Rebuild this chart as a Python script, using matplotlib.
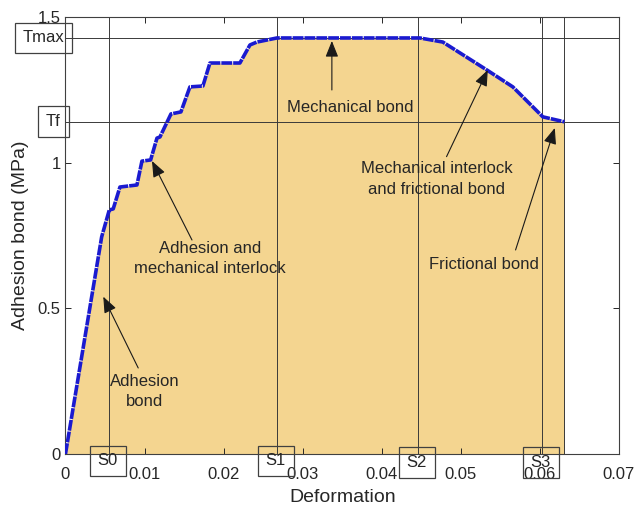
import matplotlib
matplotlib.use("Agg")
import matplotlib.pyplot as plt
import matplotlib.transforms as mtransforms
import numpy as np

plt.rcParams['font.family'] = ['Liberation Sans', 'DejaVu Sans']

# ---- data ----
deformation = [0.0, 0.00458, 0.00554, 0.00604, 0.00689, 0.00904, 0.00967, 0.01077,
               0.01157, 0.01195, 0.01334, 0.01460, 0.01574, 0.01738, 0.01827, 0.02206,
               0.02333, 0.02421, 0.02674, 0.04482, 0.04772, 0.05329, 0.05657, 0.06037,
               0.0631]
bond = [0.0, 0.746, 0.838, 0.842, 0.917, 0.924, 1.006, 1.010,
        1.085, 1.089, 1.168, 1.175, 1.261, 1.264, 1.343, 1.343,
        1.405, 1.415, 1.429, 1.429, 1.415, 1.319, 1.261, 1.158,
        1.141]
stage_names = ['S0', 'S1', 'S2', 'S3']
stage_x = [0.00554, 0.02678, 0.0446, 0.0603]
level_names = ['Tmax', 'Tf']
level_y = [1.429, 1.141]
x_ticks = [0, 0.01, 0.02, 0.03, 0.04, 0.05, 0.06, 0.07]
x_ticklabels = ['0', '0.01', '0.02', '0.03', '0.04', '0.05', '0.06', '0.07']
y_ticks = [0, 0.5, 1, 1.5]
y_ticklabels = ['0', '0.5', '1', '1.5']

fig = plt.figure(figsize=(6.35, 5.09), dpi=100)
ax = fig.add_axes([0.1031, 0.1081, 0.8717, 0.8579])

fill_c = '#F4D590'
line_c = '#1A1AD0'
ref_c = '#3a3a3a'
txt_c = '#262626'

ax.fill_between(deformation, bond, 0, color=fill_c, lw=0, zorder=1)
ax.plot(deformation, bond, color=line_c, lw=2.6, linestyle=(0, (3.0, 0.28)),
        zorder=4, solid_capstyle='butt', dash_capstyle='butt')

# reference lines
for lv in level_y:
    ax.axhline(lv, color=ref_c, lw=0.7, zorder=2)
for sx in stage_x + [deformation[-1]]:
    ax.axvline(sx, color=ref_c, lw=0.7, zorder=2)

ax.set_xlim(0, 0.07)
ax.set_ylim(0, 1.5)
ax.set_xticks(x_ticks)
ax.set_xticklabels(x_ticklabels)
ax.set_yticks(y_ticks)
ax.set_yticklabels(y_ticklabels)
ax.tick_params(direction='in', length=4, width=0.7, top=True, right=True,
               labelsize=12, colors=txt_c)
ax.tick_params(axis='x', pad=9.5)
ax.tick_params(axis='y', pad=3.5)
for s in ax.spines.values():
    s.set_linewidth(0.8)
    s.set_color('#404040')

ax.set_xlabel('Deformation', fontsize=14, color=txt_c, labelpad=5)
ax.set_ylabel('Adhesion bond (MPa)', fontsize=14, color=txt_c, labelpad=6)

box = dict(boxstyle='square,pad=0.47', fc='none', ec='#404040', lw=0.9)

# level boxes
tr_y = mtransforms.blended_transform_factory(ax.transAxes, ax.transData)
lev_xpos = [-0.0397, -0.0217]
for name, lv, xp in zip(level_names, level_y, lev_xpos):
    ax.text(xp, lv, name, transform=tr_y, ha='center', va='center',
            fontsize=12, color=txt_c, bbox=box, clip_on=False, zorder=6)

# stage boxes
tr_x = mtransforms.blended_transform_factory(ax.transData, ax.transAxes)
stage_ypos = [-0.016, -0.016, -0.0195, -0.0195]
for name, sx, yp in zip(stage_names, stage_x, stage_ypos):
    ax.text(sx - 0.0002, yp, name, transform=tr_x, ha='center', va='center',
            fontsize=12, color=txt_c, bbox=box, clip_on=False, zorder=6)

# annotations
arrow = dict(arrowstyle='-|>,head_length=0.7,head_width=0.28', color='#1a1a1a',
             lw=0.8, shrinkA=0, shrinkB=0, mutation_scale=14)
annots = [
    ('Adhesion\nbond', (0.01005, 0.214), (0.00920, 0.2954), (0.00478, 0.5404)),
    ('Adhesion and\nmechanical interlock', (0.01827, 0.6716), (0.0160, 0.735), (0.01094, 1.0065)),
    ('Mechanical bond', (0.03597, 1.1886), (0.03369, 1.2504), (0.03369, 1.4188)),
    ('Mechanical interlock\nand frictional bond', (0.04693, 0.9447), (0.04819, 1.0213), (0.05341, 1.3191)),
    ('Frictional bond', (0.05291, 0.6493), (0.05692, 0.7008), (0.06188, 1.1199)),
]
for label, tpos, start, tip in annots:
    ax.text(tpos[0], tpos[1], label, ha='center', va='center', fontsize=12,
            color=txt_c, linespacing=1.45, zorder=5)
    ax.annotate('', xy=tip, xytext=start, arrowprops=arrow, zorder=5)

fig.savefig('out.png', dpi=100)
